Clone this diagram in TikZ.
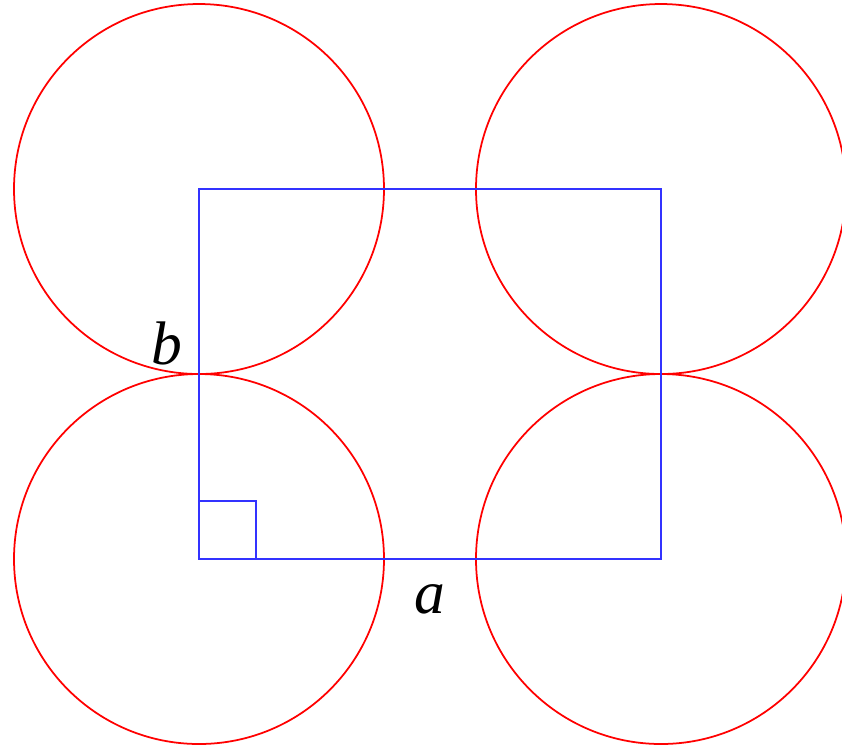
\documentclass[tikz,border=0pt]{standalone}
\usepackage{fontspec}
\setmainfont{Liberation Serif}
\usetikzlibrary{positioning}

\begin{document}
\begin{tikzpicture}[
  ring/.style={draw=red, line width=0.5pt},
  frame/.style={draw=blue!80!white, line width=0.5pt},
  lbl/.style={inner sep=0pt, font=\fontsize{17.5}{20}\selectfont\itshape},
]
\useasboundingbox (0,0) rectangle (8.42,-7.52);
% circle centres = corners of the rectangle
\coordinate (tl) at (1.99,-1.89);
\coordinate (tr) at (6.61,-1.89);
\coordinate (bl) at (1.99,-5.59);
\coordinate (br) at (6.61,-5.59);
\foreach \c in {tl,tr,bl,br}
  \draw[ring] (\c) circle[radius=1.85];
\draw[frame] (bl) rectangle (tr);
\draw[frame] (bl) rectangle ++(0.57,0.58);
\node[lbl] (b) at (1.67,-3.43) {b};
\node[lbl] (a) at (4.30,-5.99) {a};
\end{tikzpicture}
\end{document}
